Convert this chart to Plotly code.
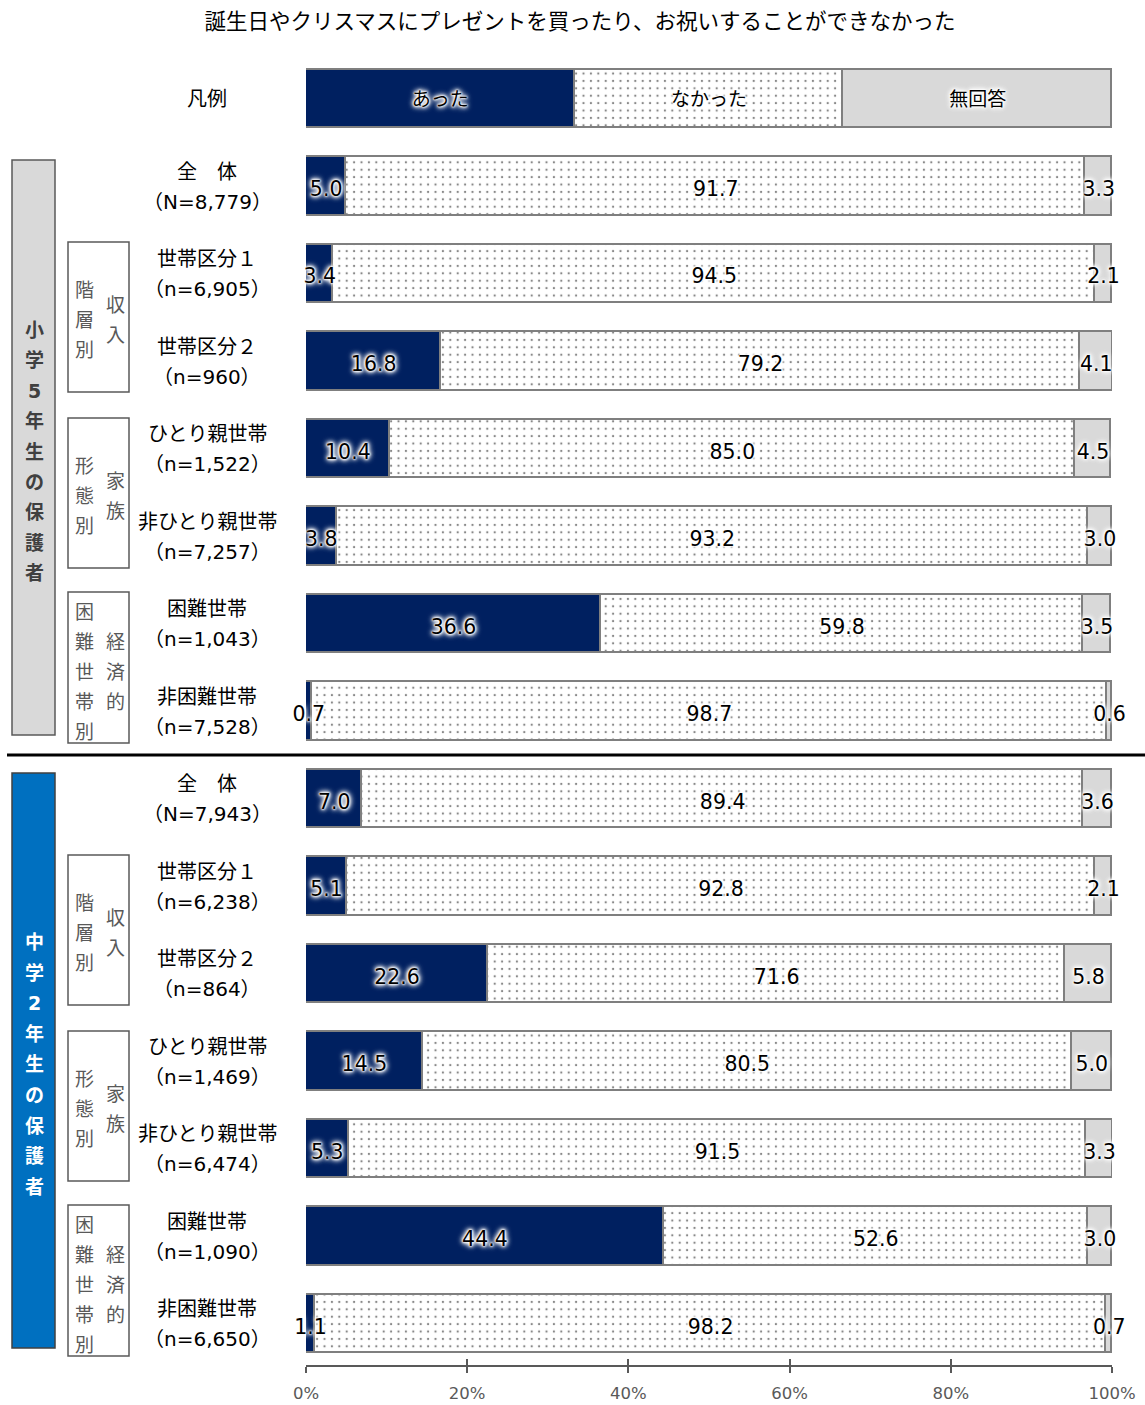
import plotly.graph_objects as go

# ---- data -------------------------------------------------------------
TITLE = "誕生日やクリスマスにプレゼントを買ったり、お祝いすることができなかった"
SERIES = ["あった", "なかった", "無回答"]

ROW_NAMES = ["全\u3000体", "世帯区分１", "世帯区分２", "ひとり親世帯", "非ひとり親世帯", "困難世帯", "非困難世帯"]
ELEM_N = ["（N=8,779）", "（n=6,905）", "（n=960）", "（n=1,522）", "（n=7,257）", "（n=1,043）", "（n=7,528）"]
JH_N = ["（N=7,943）", "（n=6,238）", "（n=864）", "（n=1,469）", "（n=6,474）", "（n=1,090）", "（n=6,650）"]

ELEM_ATTA = [5.0, 3.4, 16.8, 10.4, 3.8, 36.6, 0.7]
ELEM_NAKATTA = [91.7, 94.5, 79.2, 85.0, 93.2, 59.8, 98.7]
ELEM_MUKAITO = [3.3, 2.1, 4.1, 4.5, 3.0, 3.5, 0.6]

JH_ATTA = [7.0, 5.1, 22.6, 14.5, 5.3, 44.4, 1.1]
JH_NAKATTA = [89.4, 92.8, 71.6, 80.5, 91.5, 52.6, 98.2]
JH_MUKAITO = [3.6, 2.1, 5.8, 5.0, 3.3, 3.0, 0.7]

GROUP_ELEM = "小学5年生の保護者"
GROUP_JH = "中学2年生の保護者"
SUBGROUPS = [("階層別", "収入"), ("形態別", "家族"), ("困難世帯別", "経済的")]

TICK_VALS = [0, 20, 40, 60, 80, 100]
TICK_TEXT = ["0%", "20%", "40%", "60%", "80%", "100%"]

# ---- layout geometry ---------------------------------------------------
W, H = 1145, 1405
PL, PR = 306, 1112          # plot area left / right (px)
PT, PB = 55, 1365           # plot area top / bottom (px)
ROW0, ROWSTEP = 99, 87.5    # centre of first row and row pitch (px)

FONT = "DejaVu Sans, Noto Sans CJK JP, sans-serif"
NAVY, GREY, EDGE = "#002060", "#D9D9D9", "#7F7F7F"
GLOW = ("0 0 2px #fff, 0 0 2px #fff, 0 0 3px #fff, 0 0 4px #fff, "
        "0 0 5px #fff, 0 0 6px #fff, 0 0 7px #fff")


def px_x(px):
    return (px - PL) / (PR - PL)


def px_y(py):
    return (PB - py) / (PB - PT)


y_range = [(PB - ROW0) / ROWSTEP, (PT - ROW0) / ROWSTEP]

atta = ELEM_ATTA + JH_ATTA
nakatta = ELEM_NAKATTA + JH_NAKATTA
mukaito = ELEM_MUKAITO + JH_MUKAITO
rows = list(range(1, 1 + len(atta)))

fig = go.Figure()

bar_width = 0.663
styles = [
    dict(color=NAVY),
    dict(color="white", pattern=dict(shape=".", fgcolor="#111111", bgcolor="white",
                                     size=7.4, solidity=0.075, fillmode="overlay")),
    dict(color=GREY),
]

# legend sample row (equal thirds) and data rows
for name, vals, st in zip(SERIES, [atta, nakatta, mukaito], styles):
    fig.add_trace(go.Bar(
        x=[100 / 3] + vals, y=[0] + rows, orientation="h", width=bar_width,
        marker=dict(**st, line=dict(color=EDGE, width=1.6)),
        name=name, hoverinfo="skip", showlegend=False,
    ))

# series names inside the legend bar
fig.add_trace(go.Scatter(
    x=[100 / 6, 50, 500 / 6], y=[0.03, 0.03, 0.03], mode="text", text=SERIES,
    textfont=dict(family=FONT, size=19, color="black", shadow=GLOW),
    hoverinfo="skip", showlegend=False,
))

# value labels centred in each segment
lx, ly, lt = [], [], []
for r, a, n, m in zip(rows, atta, nakatta, mukaito):
    start = 0
    for v in (a, n, m):
        lx.append(start + v / 2)
        ly.append(r + 0.05)
        lt.append(f"{v:.1f}")
        start += v
fig.add_trace(go.Scatter(
    x=lx, y=ly, mode="text", text=lt, cliponaxis=False,
    textfont=dict(family=FONT, size=20.5, color="black", shadow=GLOW),
    hoverinfo="skip", showlegend=False,
))

ann = []
shapes = []

# row captions
label_x = px_x(207)
CAP_FONT = dict(family=FONT, size=20, color="black")
ann.append(dict(x=label_x, y=0, xref="paper", yref="y", text="凡例", showarrow=False,
                xanchor="center", yanchor="middle", font=CAP_FONT))
for r, (nm, nn) in enumerate(zip(ROW_NAMES * 2, ELEM_N + JH_N), start=1):
    ann.append(dict(x=label_x, y=r - 15 / ROWSTEP, xref="paper", yref="y", text=nm,
                    showarrow=False, xanchor="center", yanchor="middle", font=CAP_FONT))
    ann.append(dict(x=label_x, y=r + 15 / ROWSTEP, xref="paper", yref="y", text=nn,
                    showarrow=False, xanchor="center", yanchor="middle", font=CAP_FONT))


def vertical_text(text, cx, cy_first, step, color, size, bold=False):
    for i, ch in enumerate(text):
        t = f"<b>{ch}</b>" if bold else ch
        ann.append(dict(x=px_x(cx), y=px_y(cy_first + i * step), xref="paper", yref="paper",
                        text=t, showarrow=False, xanchor="center", yanchor="middle",
                        font=dict(family=FONT, size=size, color=color)))


def box(x0, y0, x1, y1, fill, line):
    shapes.append(dict(type="rect", xref="paper", yref="paper",
                       x0=px_x(x0), x1=px_x(x1), y0=px_y(y1), y1=px_y(y0),
                       fillcolor=fill, line=dict(color=line, width=1.5), layer="below"))


# school-year group boxes
box(12, 160, 55, 735, GREY, "#595959")
vertical_text(GROUP_ELEM, 34, 330, 30.4, "#404040", 19, bold=True)
box(12, 773, 55, 1348, "#0070C0", "#404040")
vertical_text(GROUP_JH, 34, 942, 30.6, "white", 19, bold=True)

# sub-group boxes (income / family / hardship) for both sections
for off in (0, 613):
    sub_boxes = [(242, 392), (418, 568), (592, 743)]
    for (top, bot), (left_col, right_col) in zip(sub_boxes, SUBGROUPS):
        box(68, top + off, 129, bot + off, "white", "#595959")
        if len(left_col) == 3:
            vertical_text(left_col, 84, top + off + 48, 30, "#595959", 19)
            vertical_text(right_col, 115, top + off + 63, 30, "#595959", 19)
        else:
            vertical_text(left_col, 84, top + off + 20, 30, "#595959", 19)
            vertical_text(right_col, 115, top + off + 50, 30, "#595959", 19)

# divider between the two sections
shapes.append(dict(type="line", xref="paper", yref="paper",
                   x0=px_x(7), x1=px_x(1145), y0=px_y(755), y1=px_y(755),
                   line=dict(color="black", width=3)))

fig.update_layout(
    width=W, height=H,
    margin=dict(l=PL, r=W - PR, t=PT, b=H - PB, autoexpand=False),
    paper_bgcolor="white", plot_bgcolor="white",
    barmode="stack", bargap=0,
    title=dict(text=TITLE, x=580 / W, xref="container", xanchor="center",
               y=1 - 21 / H, yref="container", yanchor="middle", automargin=False,
               font=dict(family=FONT, size=21.5, color="black")),
    xaxis=dict(range=[0, 100], tickvals=TICK_VALS, ticktext=TICK_TEXT,
               ticks="outside", ticklen=6, tickwidth=1.5, tickcolor="#595959",
               ticklabelstandoff=6, automargin=False,
               showline=True, linecolor="#595959", linewidth=1.5,
               showgrid=False, zeroline=False, fixedrange=True,
               tickfont=dict(family=FONT, size=16.5, color="#595959")),
    xaxis2=dict(range=[0, 100], overlaying="x", anchor="y", side="bottom",
                tickvals=TICK_VALS, ticks="inside", ticklen=6, tickwidth=1.5,
                tickcolor="#595959", showticklabels=False, showline=False,
                showgrid=False, zeroline=False, automargin=False),
    yaxis=dict(range=y_range, visible=False, fixedrange=True, automargin=False),
    annotations=ann, shapes=shapes,
    showlegend=False,
)

# invisible point so the second tick axis is rendered
fig.add_trace(go.Scatter(x=[0], y=[0], xaxis="x2", mode="markers",
                         marker=dict(opacity=0), hoverinfo="skip", showlegend=False))

fig.write_html("out.html")
